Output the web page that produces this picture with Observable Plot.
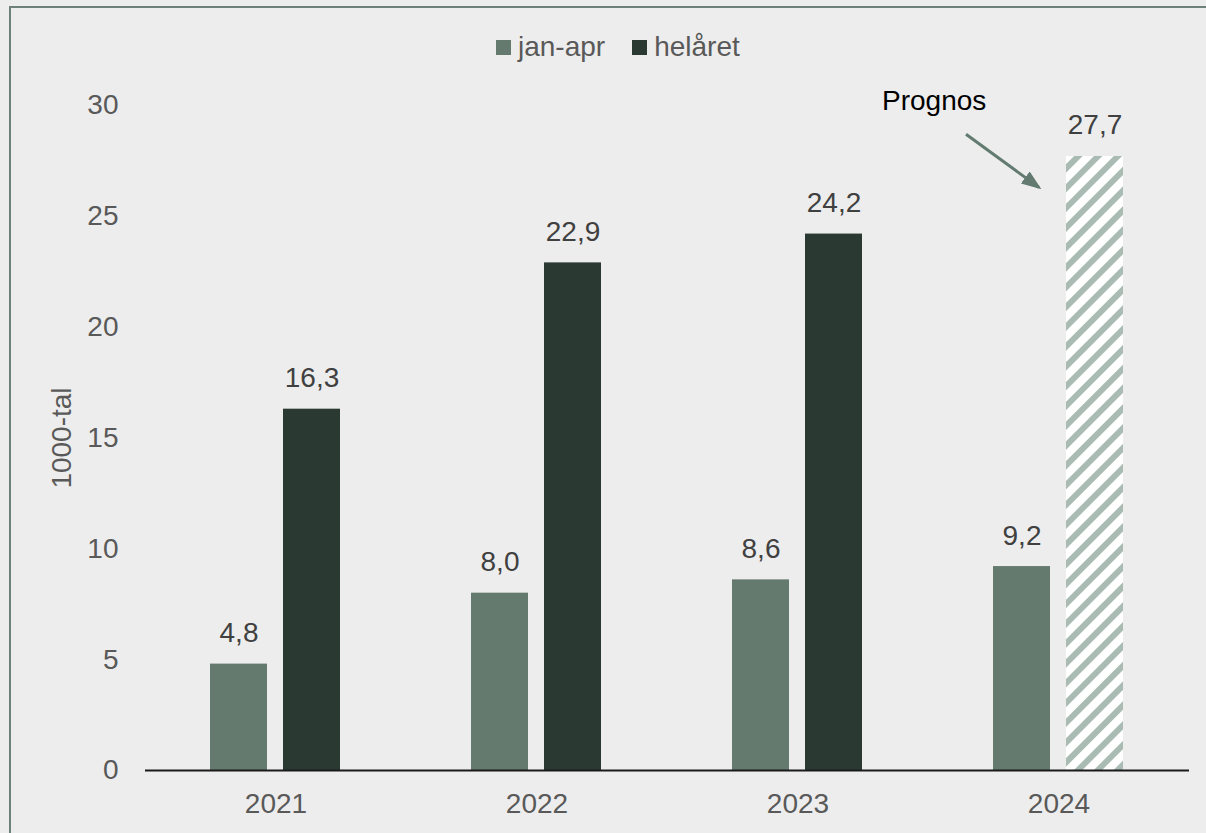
<!DOCTYPE html>
<html>
<head>
<meta charset="utf-8">
<script src="https://cdn.jsdelivr.net/npm/d3@7"></script>
<script src="https://cdn.jsdelivr.net/npm/@observablehq/plot@0.6"></script>
<style>
html,body{margin:0;padding:0;background:#ededed;overflow:hidden;width:1206px;height:833px;font-family:"Liberation Sans",Arial,sans-serif}
#frame{position:absolute;left:9px;top:6px;width:1197px;height:827px;border-left:2.5px solid #6d8178;border-top:2.5px solid #6d8178;box-sizing:border-box}
#legend{position:absolute;left:496px;top:30px;height:34px;display:flex;align-items:center;font-size:28px;color:#595959}
#legend .item{display:flex;align-items:center;margin-right:27px}
#legend .sw{width:15px;height:15px;margin-right:7px}
#chart{position:absolute;left:0;top:70px}
</style>
</head>
<body>
<div id="frame"></div>
<div id="legend"></div>
<div id="chart"></div>
<script>
const years = ["2021", "2022", "2023", "2024"];
const series = ["jan-apr", "helåret"];
const janApr = [4.8, 8.0, 8.6, 9.2];
const helaret = [16.3, 22.9, 24.2, 27.7];
const forecastYear = "2024"; // helåret 2024 is a forecast
const yTicks = [0, 5, 10, 15, 20, 25, 30];
const colors = ["#657a6f", "#2a3a33"];
const hatchColor = "#a9bbb3";
const arrowColor = "#627a6f";
const annotation = [{fx: "2024", x: "jan-apr", x2: "helåret", label: "Prognos", yText: 30.2, y1: 28.7, y2: 26.3}];

const rows = [];
years.forEach((yr, i) => {
  rows.push({year: yr, series: "jan-apr", value: janApr[i], forecast: false});
  rows.push({year: yr, series: "helåret", value: helaret[i], forecast: yr === forecastYear});
});
const fmt = v => v.toFixed(1).replace(".", ",");

// Legend
const legend = document.getElementById("legend");
series.forEach((s, i) => {
  const it = document.createElement("div");
  it.className = "item";
  it.innerHTML = `<span class="sw" style="background:${colors[i]}"></span><span>${s}</span>`;
  legend.appendChild(it);
});

const defsMark = () => {
  const defs = d3.create("svg:defs");
  const p = defs.append("pattern")
    .attr("id", "hatch").attr("patternUnits", "userSpaceOnUse")
    .attr("width", 14).attr("height", 14).attr("patternTransform", "rotate(45)");
  p.append("rect").attr("width", 14).attr("height", 14).attr("fill", "white");
  p.append("rect").attr("width", 6).attr("height", 14).attr("fill", hatchColor);
  defs.append("marker")
    .attr("id", "arrowhead").attr("viewBox", "0 0 20 15")
    .attr("refX", 17).attr("refY", 7.5)
    .attr("markerWidth", 20).attr("markerHeight", 15)
    .attr("markerUnits", "userSpaceOnUse").attr("orient", "auto")
    .append("path").attr("d", "M0,0L20,7.5L0,15Z").attr("fill", arrowColor);
  return defs.node();
};

const chart = Plot.plot({
  width: 1206,
  height: 763,
  marginTop: 35,
  marginBottom: 63,
  marginLeft: 144,
  marginRight: 16,
  style: {background: "transparent", fontFamily: "'Liberation Sans', Arial, sans-serif", fontSize: "28px", color: "#595959", overflow: "visible"},
  fx: {domain: years, padding: 0, label: null},
  x: {domain: series, paddingInner: 0.216, paddingOuter: 0.875, axis: null},
  y: {domain: [0, 30]},
  color: {domain: series, range: colors},
  marks: [
    defsMark,
    Plot.axisY({ticks: yTicks, tickSize: 0, tickPadding: 27, label: "1000-tal", labelAnchor: "center", labelArrow: "none", labelOffset: 94, fontSize: 28, tickFormat: d => String(d)}),
    Plot.axisFx({anchor: "bottom", tickSize: 0, tickPadding: 23, label: null, fontSize: 28}),
    Plot.barY(rows.filter(d => !d.forecast), {fx: "year", x: "series", y: "value", fill: "series"}),
    Plot.barY(rows.filter(d => d.forecast), {fx: "year", x: "series", y: "value", fill: "url(#hatch)"}),
    Plot.ruleY([0], {stroke: "#1a1a1a", strokeWidth: 2}),
    Plot.text(rows, {fx: "year", x: "series", y: "value", text: d => fmt(d.value), dy: -31, lineAnchor: "middle", fill: "#404040", fontSize: 28}),
    Plot.text(annotation, {fx: "fx", x: "x", y: "yText", text: "label", textAnchor: "start", dx: -140, lineAnchor: "middle", fill: "#000", fontSize: 28}),
    Plot.link(annotation, {fx: "fx", x1: "x", x2: "x2", y1: "y1", y2: "y2", dx: -56, stroke: arrowColor, strokeWidth: 3, className: "prognos-arrow"})
  ]
});
document.getElementById("chart").appendChild(chart);
d3.select(chart).selectAll(".prognos-arrow path").attr("marker-end", "url(#arrowhead)");
</script>
</body>
</html>
